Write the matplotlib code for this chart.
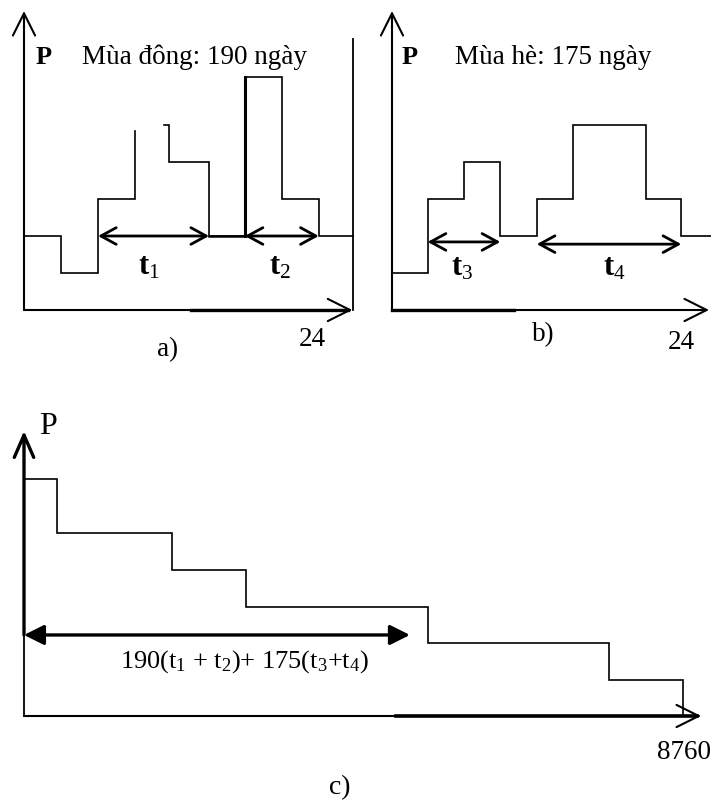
import numpy as np
import matplotlib
matplotlib.use("Agg")
import matplotlib.pyplot as plt

plt.rcParams['font.family'] = ['Liberation Serif', 'DejaVu Serif']
plt.rcParams['mathtext.fontset'] = 'custom'
plt.rcParams['mathtext.rm'] = 'Liberation Serif'
plt.rcParams['mathtext.it'] = 'Liberation Serif:italic'
plt.rcParams['mathtext.bf'] = 'Liberation Serif:bold'

# ---------------- data ----------------
# a) winter daily load profile (hours, power units)
a_edges = [0, 2.7, 5.4, 8.1, 10.6, 13.5, 16.1, 18.8, 21.5, 24]
a_levels = [2, 1, 3, 5.0, 4, 2, 6.3, 3, 2]
a_gap_top = 4.85      # left riser of the 4th step stops here (scan gap)
a_gap_resume = 10.2   # top of the 4th step resumes here
a_t1 = [5.4, 13.5]
a_t2 = [16.1, 21.5]
a_base = 2

# b) summer daily load profile
b_edges = [0, 2.7, 5.45, 8.2, 10.96, 13.7, 19.2, 21.9, 24.2]
b_levels = [1, 3, 4, 2, 3, 5, 3, 2]
b_t3 = [2.7, 8.2]
b_t4 = [10.96, 21.9]
b_t3_level = 1.84
b_t4_level = 1.78

# c) annual load duration curve (hours, power units)
c_edges = [0, 440, 1970, 2950, 5370, 7780, 8760]
c_levels = [6.4, 4.95, 3.95, 2.95, 1.97, 0.97]
c_span = [0, 5130]
c_span_level = 2.19

W, H = 711, 803
fig = plt.figure(figsize=(W / 100, H / 100), dpi=100)


def make_ax(px_x0, px_x1, px_y0, px_y1, xlim, ylim):
    ax = fig.add_axes([px_x0 / W, 1 - px_y0 / H, (px_x1 - px_x0) / W, (px_y0 - px_y1) / H])
    ax.set_xlim(*xlim)
    ax.set_ylim(*ylim)
    ax.axis('off')
    return ax


def step_xy(edges, levels):
    xs = np.repeat(np.asarray(edges, float), 2)[1:-1]
    ys = np.repeat(np.asarray(levels, float), 2)
    return xs, ys


def arrow(ax, start, end, style='->,head_length=0.8,head_width=0.4', lw=1.5, ms=20):
    ax.annotate('', xy=end, xytext=start,
                arrowprops=dict(arrowstyle=style, lw=lw, color='black',
                                shrinkA=0, shrinkB=0, mutation_scale=ms),
                annotation_clip=False)


UNIT = 37.0
TSTYLE = '<->,head_length=0.55,head_width=0.3'
# ---------------- panel a ----------------
axa = make_ax(24, 353, 311, 12, (0, 24), (0, 299 / UNIT))
xs, ys = step_xy(a_edges, a_levels)
xs = np.concatenate([xs[:6], [a_edges[3], np.nan, a_gap_resume], xs[7:]])
ys = np.concatenate([ys[:6], [a_gap_top, np.nan, a_levels[3]], ys[7:]])
axa.plot(xs, ys, color='black', lw=1.2, clip_on=False, solid_joinstyle='miter')
axa.plot([a_edges[6], a_edges[6]], [a_base, a_levels[6]], color='black', lw=2.2, clip_on=False)
axa.plot([a_edges[5], a_edges[6]], [a_base, a_base], color='black', lw=1.8, clip_on=False)
arrow(axa, (0, 0), (0, 299 / UNIT))
arrow(axa, (0, 0), (23.95, 0))
axa.plot([12.2, 23.6], [0, 0], color='black', lw=2.4, clip_on=False)
axa.plot([24, 24], [0, 271 / UNIT], color='black', lw=1.3, clip_on=False)
arrow(axa, (a_t1[0], a_base), (a_t1[1], a_base), TSTYLE, lw=2.0)
arrow(axa, (a_t2[0], a_base), (a_t2[1], a_base), TSTYLE, lw=2.0)
axa.text(9.1, 1.2, r'$\mathbf{t}_{1}$', fontsize=22, ha='center', va='center')
axa.text(18.7, 1.2, r'$\mathbf{t}_{2}$', fontsize=22, ha='center', va='center')
axa.text(1.4, 6.86, 'P', fontsize=19, ha='center', va='center', fontweight='bold')
axa.text(4.2, 6.86, 'Mùa đông: 190 ngày', fontsize=19.5, ha='left', va='center')
axa.text(21.0, -0.76, '24', fontsize=19.5, ha='center', va='center')
axa.text(10.5, -1.05, 'a)', fontsize=19.5, ha='center', va='center')

# ---------------- panel b ----------------
axb = make_ax(392, 709, 311, 12, (0, 24), (0, 299 / UNIT))
xs, ys = step_xy(b_edges, b_levels)
axb.plot(xs, ys, color='black', lw=1.2, clip_on=False, solid_joinstyle='miter')
arrow(axb, (0, 0), (0, 299 / UNIT))
arrow(axb, (0, 0), (24, 0))
axb.plot([0, 9.2], [0, 0], color='black', lw=2.4, clip_on=False)
arrow(axb, (b_t3[0], b_t3_level), (b_t3[1], b_t3_level), TSTYLE, lw=2.0)
arrow(axb, (b_t4[0], b_t4_level), (b_t4[1], b_t4_level), TSTYLE, lw=2.0)
axb.text(5.3, 1.15, r'$\mathbf{t}_{3}$', fontsize=22, ha='center', va='center')
axb.text(16.8, 1.15, r'$\mathbf{t}_{4}$', fontsize=22, ha='center', va='center')
axb.text(1.36, 6.86, 'P', fontsize=19, ha='center', va='center', fontweight='bold')
axb.text(4.77, 6.86, 'Mùa hè: 175 ngày', fontsize=19.5, ha='left', va='center')
axb.text(21.9, -0.86, '24', fontsize=19.5, ha='center', va='center')
axb.text(11.43, -0.65, 'b)', fontsize=19.5, ha='center', va='center')

# ---------------- panel c ----------------
axc = make_ax(24, 683, 717, 432, (0, 8760), (0, 285 / UNIT))
xs, ys = step_xy(c_edges, c_levels)
xs = np.concatenate([xs, [c_edges[-1]]])
ys = np.concatenate([ys, [0]])
axc.plot(xs, ys, color='black', lw=1.2, clip_on=False, solid_joinstyle='miter')
arrow(axc, (0, c_span_level), (0, 285 / UNIT), '->,head_length=0.8,head_width=0.35', lw=2.4)
axc.plot([0, 0], [0, c_span_level], color='black', lw=1.3, clip_on=False)
arrow(axc, (0, 0), (9000, 0))
axc.plot([4950, 8950], [0, 0], color='black', lw=2.6, clip_on=False)
arrow(axc, (c_span[0], c_span_level), (c_span[1], c_span_level),
      '<|-|>,head_length=0.6,head_width=0.3', lw=2.4)
axc.text(2930, 1.49, r'190($\mathrm{t}_1$ + $\mathrm{t}_2$)+ 175($\mathrm{t}_3$+$\mathrm{t}_4$)',
         fontsize=19, ha='center', va='center')
axc.text(319, 7.84, 'P', fontsize=23, ha='center', va='center')
axc.text(9130, -0.95, '8760', fontsize=19.5, ha='right', va='center')
axc.text(4200, -1.92, 'c)', fontsize=20, ha='center', va='center')

fig.savefig('out.png', dpi=100, facecolor='white')
